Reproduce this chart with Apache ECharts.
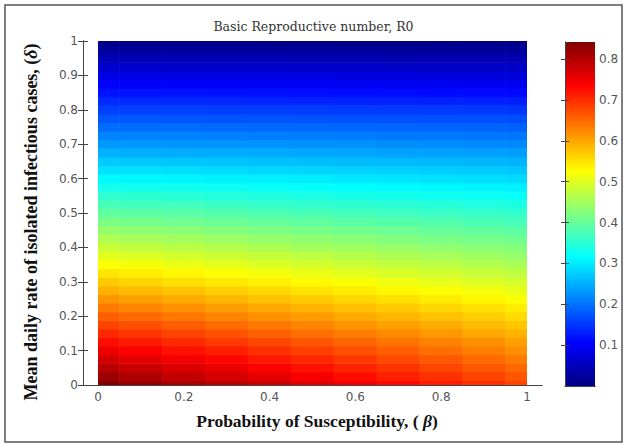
<!DOCTYPE html>
<html>
<head>
<meta charset="utf-8">
<script src="https://cdn.jsdelivr.net/npm/echarts@6/dist/echarts.min.js"></script>
<style>
  html, body { margin: 0; padding: 0; background: #ffffff; }
  #chart { width: 627px; height: 446px; }
</style>
</head>
<body>
<div id="chart"></div>
<script>
// ---- data ----
const chartTitle = 'Basic Reproductive number, R0';
const xAxisTitle = 'Probability of Susceptibility, ( {i|β})';
const yAxisTitle = 'Mean daily rate of isolated infectious cases, ({i|δ})';

// beta (x) grid nodes
const betaValues = [0, 0.1, 0.2, 0.3, 0.4, 0.5, 0.6, 0.7, 0.8, 0.9, 1.0];
// delta (y) grid nodes
const deltaValues = [0, 0.025, 0.05, 0.075, 0.1, 0.125, 0.15, 0.175, 0.2, 0.225,
  0.25, 0.275, 0.3, 0.325, 0.35, 0.375, 0.4, 0.425, 0.45, 0.475,
  0.5, 0.525, 0.55, 0.575, 0.6, 0.625, 0.65, 0.675, 0.7, 0.725,
  0.75, 0.775, 0.8, 0.825, 0.85, 0.875, 0.9, 0.925, 0.95, 0.975, 1.0];
// R0 values: one row per delta, one column per beta
const r0Rows = [
  [0.842,0.826,0.810,0.794,0.778,0.762,0.746,0.730,0.714,0.698,0.682],
  [0.819,0.804,0.788,0.773,0.758,0.743,0.728,0.712,0.697,0.682,0.667],
  [0.796,0.781,0.767,0.753,0.738,0.724,0.709,0.695,0.680,0.666,0.652],
  [0.773,0.759,0.746,0.732,0.718,0.705,0.691,0.677,0.664,0.650,0.636],
  [0.750,0.737,0.724,0.711,0.698,0.685,0.672,0.659,0.646,0.633,0.620],
  [0.727,0.715,0.703,0.690,0.678,0.666,0.654,0.641,0.629,0.617,0.605],
  [0.704,0.693,0.681,0.670,0.658,0.646,0.635,0.623,0.612,0.600,0.589],
  [0.681,0.671,0.660,0.649,0.638,0.627,0.616,0.605,0.594,0.583,0.573],
  [0.659,0.649,0.638,0.628,0.618,0.608,0.597,0.587,0.577,0.567,0.556],
  [0.636,0.627,0.617,0.607,0.598,0.588,0.578,0.569,0.559,0.550,0.540],
  [0.614,0.605,0.596,0.587,0.578,0.569,0.560,0.551,0.542,0.533,0.524],
  [0.591,0.583,0.575,0.566,0.558,0.549,0.541,0.532,0.524,0.516,0.507],
  [0.569,0.561,0.553,0.545,0.538,0.530,0.522,0.514,0.506,0.498,0.491],
  [0.547,0.540,0.532,0.525,0.518,0.510,0.503,0.496,0.489,0.481,0.474],
  [0.525,0.518,0.511,0.505,0.498,0.491,0.484,0.478,0.471,0.464,0.457],
  [0.503,0.497,0.490,0.484,0.478,0.472,0.465,0.459,0.453,0.447,0.440],
  [0.481,0.475,0.470,0.464,0.458,0.452,0.447,0.441,0.435,0.429,0.424],
  [0.460,0.454,0.449,0.444,0.438,0.433,0.428,0.423,0.417,0.412,0.407],
  [0.438,0.433,0.429,0.424,0.419,0.414,0.409,0.404,0.399,0.395,0.390],
  [0.417,0.413,0.408,0.404,0.399,0.395,0.390,0.386,0.382,0.377,0.373],
  [0.396,0.392,0.388,0.384,0.380,0.376,0.372,0.368,0.364,0.360,0.356],
  [0.375,0.371,0.368,0.364,0.360,0.357,0.353,0.350,0.346,0.342,0.339],
  [0.354,0.351,0.348,0.344,0.341,0.338,0.335,0.331,0.328,0.325,0.322],
  [0.333,0.330,0.328,0.325,0.322,0.319,0.316,0.313,0.310,0.307,0.304],
  [0.313,0.310,0.308,0.305,0.303,0.300,0.297,0.295,0.292,0.290,0.287],
  [0.292,0.290,0.288,0.286,0.283,0.281,0.279,0.277,0.274,0.272,0.270],
  [0.272,0.270,0.268,0.266,0.264,0.262,0.260,0.258,0.257,0.255,0.253],
  [0.252,0.250,0.249,0.247,0.245,0.244,0.242,0.240,0.239,0.237,0.235],
  [0.232,0.231,0.229,0.228,0.226,0.225,0.224,0.222,0.221,0.219,0.218],
  [0.214,0.213,0.212,0.210,0.209,0.208,0.207,0.205,0.204,0.203,0.202],
  [0.195,0.194,0.193,0.192,0.191,0.190,0.189,0.188,0.187,0.186,0.185],
  [0.177,0.176,0.175,0.174,0.174,0.173,0.172,0.171,0.170,0.170,0.169],
  [0.158,0.157,0.157,0.156,0.155,0.154,0.154,0.153,0.152,0.151,0.150],
  [0.140,0.139,0.138,0.137,0.136,0.135,0.134,0.133,0.133,0.132,0.131],
  [0.121,0.120,0.119,0.118,0.117,0.116,0.115,0.114,0.113,0.112,0.111],
  [0.103,0.102,0.101,0.100,0.099,0.098,0.097,0.096,0.095,0.094,0.093],
  [0.084,0.083,0.082,0.082,0.081,0.080,0.079,0.078,0.077,0.076,0.075],
  [0.065,0.064,0.063,0.063,0.062,0.061,0.061,0.060,0.059,0.058,0.058],
  [0.045,0.044,0.044,0.043,0.043,0.042,0.042,0.041,0.041,0.040,0.040],
  [0.024,0.023,0.023,0.023,0.022,0.022,0.022,0.022,0.021,0.021,0.021],
  [0.004,0.004,0.004,0.004,0.004,0.004,0.003,0.003,0.003,0.003,0.003]
];
// colour bar range
const colorMin = 0;
const colorMax = 0.842;

// ---- build the chart ----
const jetColors = ['#000080','#0000ff','#0080ff','#00ffff','#80ff80','#ffff00','#ff8000','#ff0000','#800000'];
const cells = [];
deltaValues.forEach((d, i) => {
  betaValues.forEach((b, j) => { cells.push([b, d, r0Rows[i][j]]); });
});
const halfDx = (betaValues[1] - betaValues[0]) / 2;
const halfDy = (deltaValues[1] - deltaValues[0]) / 2;

function renderCell(params, api) {
  const x = api.value(0), y = api.value(1);
  const p0 = api.coord([Math.max(0, x - halfDx), Math.min(1, y + halfDy)]);
  const p1 = api.coord([Math.min(1, x + halfDx), Math.max(0, y - halfDy)]);
  return {
    type: 'rect',
    shape: { x: p0[0] - 0.3, y: p0[1] - 0.3, width: p1[0] - p0[0] + 0.6, height: p1[1] - p0[1] + 0.6 },
    style: { fill: api.visual('color') }
  };
}

const barGradient = new echarts.graphic.LinearGradient(0, 1, 0, 0,
  jetColors.map((c, i) => ({ offset: i / (jetColors.length - 1), color: c })));

function renderColorBar(params, api) {
  const p0 = api.coord([0, api.value(1)]);
  const p1 = api.coord([1, api.value(0)]);
  return {
    type: 'rect',
    shape: { x: p0[0], y: p0[1], width: p1[0] - p0[0], height: p1[1] - p0[1] },
    style: { fill: barGradient }
  };
}

const tickFont = { fontFamily: 'DejaVu Sans', fontSize: 12, color: '#555' };
const lineStyle = { color: '#444', width: 1 };
const noAxisParts = { axisTick: { show: false }, axisLabel: { show: false }, splitLine: { show: false } };

const chart = echarts.init(document.getElementById('chart'), null, { renderer: 'svg' });
chart.setOption({
  backgroundColor: '#ffffff',
  animation: false,
  title: {
    text: chartTitle, left: 'center', top: 15,
    textStyle: { fontFamily: 'DejaVu Serif', fontSize: 12.5, fontWeight: 'normal', color: '#333' }
  },
  grid: [
    { left: 83, top: 41, width: 459, height: 344 },   // axes frame
    { left: 98, top: 41, width: 429, height: 344 },   // image area (beta 0..1)
    { left: 565, top: 42, width: 30, height: 344 }    // colour bar frame
  ],
  xAxis: [
    Object.assign({ gridIndex: 0, type: 'value', min: 0, max: 1, position: 'bottom', z: 10,
      axisLine: { show: true, lineStyle } }, noAxisParts),
    Object.assign({ gridIndex: 0, type: 'value', min: 0, max: 1, position: 'top', z: 10,
      axisLine: { show: true, lineStyle } }, noAxisParts),
    { gridIndex: 1, type: 'value', min: 0, max: 1, interval: 0.2, position: 'bottom',
      axisLine: { show: false }, axisTick: { show: false }, splitLine: { show: false },
      axisLabel: Object.assign({ margin: 6, formatter: v => String(+v.toFixed(1)) }, tickFont) },
    Object.assign({ gridIndex: 2, type: 'value', min: 0, max: 1, position: 'bottom', z: 10,
      axisLine: { show: true, lineStyle } }, noAxisParts),
    Object.assign({ gridIndex: 2, type: 'value', min: 0, max: 1, position: 'top', z: 10,
      axisLine: { show: true, lineStyle } }, noAxisParts)
  ],
  yAxis: [
    { gridIndex: 0, type: 'value', min: 0, max: 1, interval: 0.1, position: 'left', z: 10,
      axisLine: { show: true, lineStyle }, splitLine: { show: false },
      axisTick: { show: true, inside: true, length: 5, lineStyle },
      axisLabel: Object.assign({ margin: 5, formatter: v => String(+v.toFixed(1)) }, tickFont) },
    { gridIndex: 0, type: 'value', min: 0, max: 1, interval: 0.1, position: 'right', z: 10,
      axisLine: { show: true, lineStyle }, splitLine: { show: false },
      axisTick: { show: true, inside: true, length: 5, lineStyle },
      axisLabel: { show: false } },
    { gridIndex: 1, type: 'value', min: 0, max: 1, show: false },
    { gridIndex: 2, type: 'value', min: colorMin, max: colorMax, interval: 0.1, position: 'left', z: 10,
      axisLine: { show: true, lineStyle }, splitLine: { show: false },
      axisTick: { show: true, inside: true, length: 4, lineStyle },
      axisLabel: { show: false } },
    { gridIndex: 2, type: 'value', min: colorMin, max: colorMax, interval: 0.1, position: 'right', z: 10,
      axisLine: { show: true, lineStyle }, splitLine: { show: false },
      axisTick: { show: true, inside: true, length: 4, lineStyle },
      axisLabel: Object.assign({ margin: 4, showMinLabel: false, showMaxLabel: false,
        formatter: v => (v > 0.05 && Math.abs(v * 10 - Math.round(v * 10)) < 1e-6) ? v.toFixed(1) : '' }, tickFont) }
  ],
  visualMap: {
    type: 'continuous', show: false, min: colorMin, max: colorMax, dimension: 2, seriesIndex: 0,
    inRange: { color: jetColors }
  },
  series: [
    { type: 'custom', xAxisIndex: 2, yAxisIndex: 2, clip: true,
      renderItem: renderCell, data: cells, silent: true },
    { type: 'custom', xAxisIndex: 3, yAxisIndex: 3, clip: true,
      renderItem: renderColorBar, data: [[colorMin, colorMax]], silent: true }
  ],
  graphic: [
    { type: 'rect', shape: { x: 5, y: 5, width: 617, height: 437 }, silent: true,
      style: { fill: 'none', stroke: '#555', lineWidth: 1.5 } },
    { type: 'text', x: 317, y: 421, silent: true,
      style: { text: xAxisTitle, align: 'center', verticalAlign: 'middle',
        fontFamily: 'Liberation Serif', fontSize: 17.5, fontWeight: 'bold', fill: '#111',
        rich: { i: { fontStyle: 'italic', fontFamily: 'Liberation Serif', fontSize: 17.5, fontWeight: 'bold', fill: '#111' } } } },
    { type: 'text', x: 31, y: 222, rotation: Math.PI / 2, silent: true,
      style: { text: yAxisTitle, align: 'center', verticalAlign: 'middle',
        fontFamily: 'Liberation Serif', fontSize: 18, fontWeight: 'bold', fill: '#111',
        rich: { i: { fontStyle: 'italic', fontFamily: 'Liberation Serif', fontSize: 18, fontWeight: 'bold', fill: '#111' } } } }
  ]
});
</script>
</body>
</html>
